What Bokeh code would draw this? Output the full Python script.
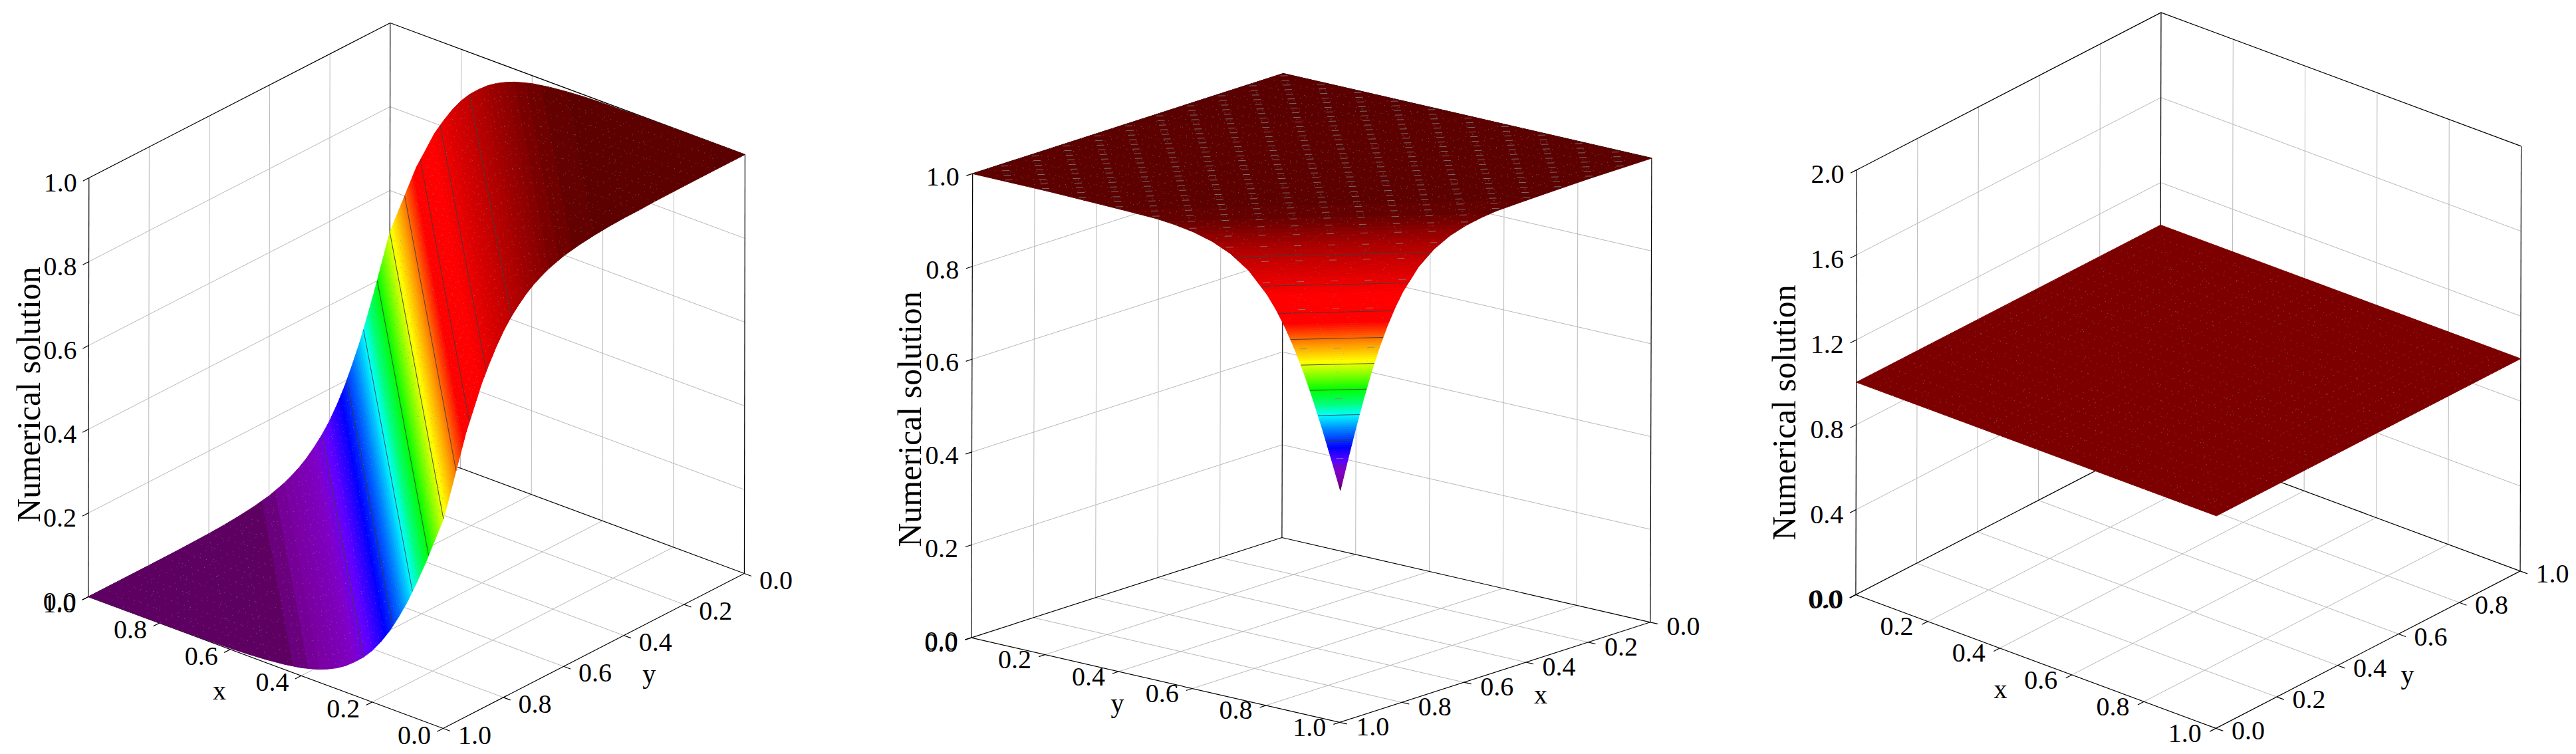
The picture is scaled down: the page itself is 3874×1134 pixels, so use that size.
import numpy as np
from bokeh.plotting import figure
from bokeh.layouts import row
from bokeh.models import Range1d
from bokeh.core.properties import value
from bokeh.embed import file_html
from bokeh.resources import INLINE

# ---- values: u depends on s = x + y in panels 1 and 2
wave_s = [0.0, 0.1, 0.2, 0.3, 0.35, 0.4, 0.45, 0.5, 0.55, 0.6, 0.625, 0.65, 0.675, 0.7, 0.725, 0.75, 0.775, 0.8,
          0.825, 0.85, 0.875, 0.9, 0.925, 0.95, 0.975, 1.0, 1.025, 1.05, 1.075, 1.1, 1.125, 1.15, 1.175, 1.2,
          1.225, 1.25, 1.275, 1.3, 1.325, 1.35, 1.375, 1.4, 1.45, 1.5, 1.55, 1.6, 1.7, 1.8, 1.9, 2.0]
wave_u = [1.0, 1.0, 0.9996, 0.999, 0.9975, 0.9972, 0.9955, 0.9925, 0.988, 0.981, 0.9752, 0.969, 0.9603, 0.95, 0.9368,
          0.92, 0.9007, 0.877, 0.8474, 0.813, 0.775, 0.727, 0.68, 0.62, 0.56, 0.5, 0.44, 0.38, 0.325, 0.273, 0.228,
          0.187, 0.1526, 0.123, 0.0993, 0.08, 0.0632, 0.05, 0.0397, 0.031, 0.0248, 0.019, 0.012, 0.0075, 0.0045,
          0.0028, 0.001, 0.0004, 0.0001, 0.0]
dip_s = [0.0, 0.5, 1.0, 1.2, 1.3, 1.4, 1.5, 1.55, 1.6, 1.65, 1.7, 1.75, 1.8, 1.825, 1.85, 1.875, 1.9, 1.925, 1.95,
         1.975, 2.0]
dip_u = [1.0, 1.0, 0.9997, 0.9992, 0.9978, 0.9962, 0.994, 0.99, 0.9835, 0.9727, 0.9552, 0.9277, 0.885, 0.8563, 0.822,
         0.7816, 0.735, 0.6824, 0.6248, 0.5634, 0.5]
flat_s = [0.0, 1.0, 2.0]
flat_u = [1.0, 1.0, 1.0]

xy_ticks = [0.0, 0.2, 0.4, 0.6, 0.8, 1.0]
z_ticks_unit = [0.0, 0.2, 0.4, 0.6, 0.8, 1.0]
z_ticks_two = [0.0, 0.4, 0.8, 1.2, 1.6, 2.0]
z_title = "Numerical solution"

# ---- colour map (t in 0..1)
stop_t = [0.0, 0.012, 0.03, 0.08, 0.11, 0.17, 0.24, 0.30, 0.34, 0.40, 0.51, 0.58, 0.66, 0.76, 0.82, 0.88, 0.93, 0.96, 0.98, 0.99, 1.0]
stop_c = ["#5e0062", "#5e0062", "#7a00a0", "#8000c8", "#6400ff", "#0000ff", "#0080ff", "#00ffff", "#00ff80", "#00ff00",
          "#ffff00", "#ff9000", "#ff0000", "#ff0000", "#e40000", "#c80000", "#a80000", "#8c0000", "#700000", "#600000", "#5a0000"]
N_LEVELS = 128


def hex_rgb(h):
    return [int(h[i:i + 2], 16) for i in (1, 3, 5)]


stop_rgb = np.array([hex_rgb(c) for c in stop_c], float)


def cmap(t):
    rgb = [int(round(np.interp(t, stop_t, stop_rgb[:, k]))) for k in range(3)]
    return "#%02x%02x%02x" % tuple(rgb)


# ---- panel geometry: orthographic box, page pixels
panels = [
    dict(left=8, right=1290, O=(1118.9, 862.0), Ex=(-533.6, -198.0), Ey=(-453.0, 233.0), Ez=(1.0, -630.0),
         zmax=1.0, zt=z_ticks_unit, s=wave_s, u=wave_u, fixed=None,
         L=(1, 1), B=(1, 0), R=(0, 0), F=(0, 1), xedge_y=1, yedge_x=0,
         xoff=(-43.5, 10), yoff=(47.5, 10), zoff=(-43, 7), xt=(329.5, 1038), yt=(975.7, 1012.5), title=(42, 593), dashes=False),
    dict(left=1290, right=2578, O=(1927.4, 808.0), Ex=(-467.2, 150.6), Ey=(554.0, 127.3), Ez=(2.0, -698.0),
         zmax=1.0, zt=z_ticks_unit, s=dip_s, u=dip_u, fixed=None,
         L=(1, 0), B=(0, 0), R=(0, 1), F=(1, 1), xedge_y=1, yedge_x=1,
         xoff=(49.6, 6.6), yoff=(-45.4, 7.5), zoff=(-45, 5), xt=(2316.4, 1044), yt=(1680, 1056.6), title=(1367.8, 630), dashes=True),
    dict(left=2578, right=3874, O=(2790.4, 893.9), Ex=(541.6, 201.0), Ey=(457.6, -236.5), Ez=(1.5, -639.0),
         zmax=2.0, zt=z_ticks_two, s=flat_s, u=flat_u, fixed="#7d0000",
         L=(0, 0), B=(0, 1), R=(1, 1), F=(1, 0), xedge_y=0, yedge_x=1,
         xoff=(-46.7, 7.6), yoff=(48.5, 4), zoff=(-44, 7), xt=(3008, 1035.7), yt=(3620, 1014), title=(2682.4, 620), dashes=False),
]

FONT = value("Liberation Serif")
TICK_PX = "40px"
GRID = "#b8b8b8"
MESH = "#7f9a9a"
SHIFT = 8  # the row sits at the page corner


def make_panel(P):
    p = figure(width=P["right"] - P["left"], height=1126, output_backend="svg", toolbar_location=None,
               x_range=Range1d(P["left"] - SHIFT, P["right"] - SHIFT), y_range=Range1d(1126, 0), min_border=0)
    p.axis.visible = False
    p.grid.visible = False
    p.outline_line_color = None

    O, Ex, Ey, Ez, zmax = [np.array(P[k]) if k != "zmax" else P[k] for k in ("O", "Ex", "Ey", "Ez", "zmax")]

    def proj(x, y, z):
        q = O + x * Ex + y * Ey + (z / zmax) * Ez
        return float(q[0]), float(q[1])

    def seg(list_of_pts, **kw):
        xs = [[proj(*q)[0] for q in pts] for pts in list_of_pts]
        ys = [[proj(*q)[1] for q in pts] for pts in list_of_pts]
        p.multi_line(xs, ys, **kw)

    L, B, R, F = P["L"], P["B"], P["R"], P["F"]
    inner = xy_ticks[1:-1]
    zt = P["zt"]
    wx, wy = B  # the two back walls

    # gridlines
    grid = []
    for z in zt[1:-1]:
        grid.append([(*L, z), (*B, z), (*R, z)])
    for t in inner:
        grid.append([(t, wy, 0), (t, wy, zmax)])
        grid.append([(wx, t, 0), (wx, t, zmax)])
        grid.append([(t, 0, 0), (t, 1, 0)])
        grid.append([(0, t, 0), (1, t, 0)])
    seg(grid, line_color=GRID, line_width=1)

    # box
    box = [[(*L, 0), (*F, 0), (*R, 0)], [(*L, 0), (*B, 0), (*R, 0)],
           [(*L, 0), (*L, zmax)], [(*B, 0), (*B, zmax)], [(*R, 0), (*R, zmax)],
           [(*L, zmax), (*B, zmax), (*R, zmax)]]
    seg(box, line_color="black", line_width=1.2)

    # surface: strips between iso-s lines, split at the colour levels
    S = np.array(P["s"], float)
    U = np.array(P["u"], float)
    lo, hi = U.min(), U.max()
    span = hi - lo

    def u_at(s):
        return np.interp(s, S, U)

    def ends(c):
        return ((c, 0.0), (0.0, c)) if c <= 1 else ((1.0, c - 1), (c - 1, 1.0))

    xs, ys, cols = [], [], []
    for i in range(len(S) - 1):
        s0, s1, u0, u1 = S[i], S[i + 1], U[i], U[i + 1]
        cuts = [s0, s1]
        if span > 0 and u0 != u1:
            for k in range(1, N_LEVELS):
                lev = lo + span * k / N_LEVELS
                if min(u0, u1) < lev < max(u0, u1):
                    cuts.append(s0 + (lev - u0) / (u1 - u0) * (s1 - s0))
        cuts = sorted(cuts)
        for a, b in zip(cuts[:-1], cuts[1:]):
            ua, ub = u0 + (a - s0) / (s1 - s0) * (u1 - u0), u0 + (b - s0) / (s1 - s0) * (u1 - u0)
            ea, eb = ends(a), ends(b)
            poly = [proj(*ea[0], ua), proj(*eb[0], ub), proj(*eb[1], ub), proj(*ea[1], ua)]
            xs.append([q[0] for q in poly])
            ys.append([q[1] for q in poly])
            if P["fixed"]:
                cols.append(P["fixed"])
            else:
                t = (0.5 * (ua + ub) - lo) / span
                t = (np.floor(t * N_LEVELS) + 0.5) / N_LEVELS
                cols.append(cmap(t))
    p.patches(xs, ys, fill_color=cols, line_color=cols, line_width=1)

    # mesh specks
    along = np.linspace(0, 1, 41)
    mesh = []
    for t in np.arange(0.05, 1.0, 0.05):
        mesh.append([(t, v, u_at(t + v)) for v in along])
        mesh.append([(v, t, u_at(t + v)) for v in along])
    seg(mesh, line_color=MESH, line_width=1, line_dash="1 9", line_alpha=0.6)
    if P["dashes"]:
        ds = []
        half = 0.0054
        for a in range(0, 41):
            for b in range(-20, 21):
                x, y = 0.0125 + 0.025 * a + 0.05 * b, 0.0125 + 0.025 * a - 0.05 * b
                if 0.01 < x < 0.99 and 0.01 < y < 0.99:
                    ds.append([(x - half, y + half, u_at(x + y)), (x + half, y - half, u_at(x + y))])
        seg(ds, line_color="#808888", line_width=1, line_alpha=0.8)
    else:
        diag = []
        for c in np.arange(0.1, 2.0, 0.1):
            e0, e1 = ends(c)
            diag.append([(*e0, u_at(c)), (*e1, u_at(c))])
        seg(diag, line_color=MESH, line_width=1, line_dash="1 12", line_alpha=0.6)

    # contour lines every tenth of the range
    if span > 0:
        cont = []
        order = np.argsort(U)
        for k in range(1, 10):
            lev = lo + span * k / 10
            c = float(np.interp(lev, U[order], S[order]))
            e0, e1 = ends(c)
            cont.append([(*e0, lev), (*e1, lev)])
        seg(cont, line_color="#3c3c3c", line_width=1, line_alpha=0.9)

    # ticks and tick labels
    ex, ey = P["xedge_y"], P["yedge_x"]
    xsign = 1 if ex == 1 else -1
    ysign = 1 if ey == 1 else -1
    dzx, dzy = L[0] - B[0], L[1] - B[1]
    tk = []
    lx, ly, lt = [], [], []
    for t in xy_ticks:
        tk.append([(t, ex, 0), (t, ex + xsign * 0.02, 0)])
        q = proj(t, ex, 0)
        lx.append(q[0] + P["xoff"][0]); ly.append(q[1] + P["xoff"][1]); lt.append("%.1f" % t)
        tk.append([(ey, t, 0), (ey + ysign * 0.02, t, 0)])
        q = proj(ey, t, 0)
        lx.append(q[0] + P["yoff"][0]); ly.append(q[1] + P["yoff"][1]); lt.append("%.1f" % t)
    for z in zt:
        tk.append([(*L, z), (L[0] + 0.02 * dzx, L[1] + 0.02 * dzy, z)])
        q = proj(*L, z)
        lx.append(q[0] + P["zoff"][0]); ly.append(q[1] + P["zoff"][1]); lt.append("%.1f" % z)
    seg(tk, line_color="black", line_width=1.2)

    p.text(lx, ly, text=lt, text_font=FONT, text_font_size=TICK_PX, text_align="center",
           text_baseline="middle", text_color="black")
    p.text([P["xt"][0], P["yt"][0]], [P["xt"][1], P["yt"][1]], text=["x", "y"], text_font=FONT,
           text_font_size=TICK_PX, text_align="center", text_baseline="middle", text_color="black")
    p.text([P["title"][0]], [P["title"][1]], text=[z_title], angle=np.pi / 2, text_font=FONT,
           text_font_size="50px", text_align="center", text_baseline="middle", text_color="black")
    return p


page = row(*[make_panel(P) for P in panels])
open("out.html", "w").write(file_html(page, INLINE))
